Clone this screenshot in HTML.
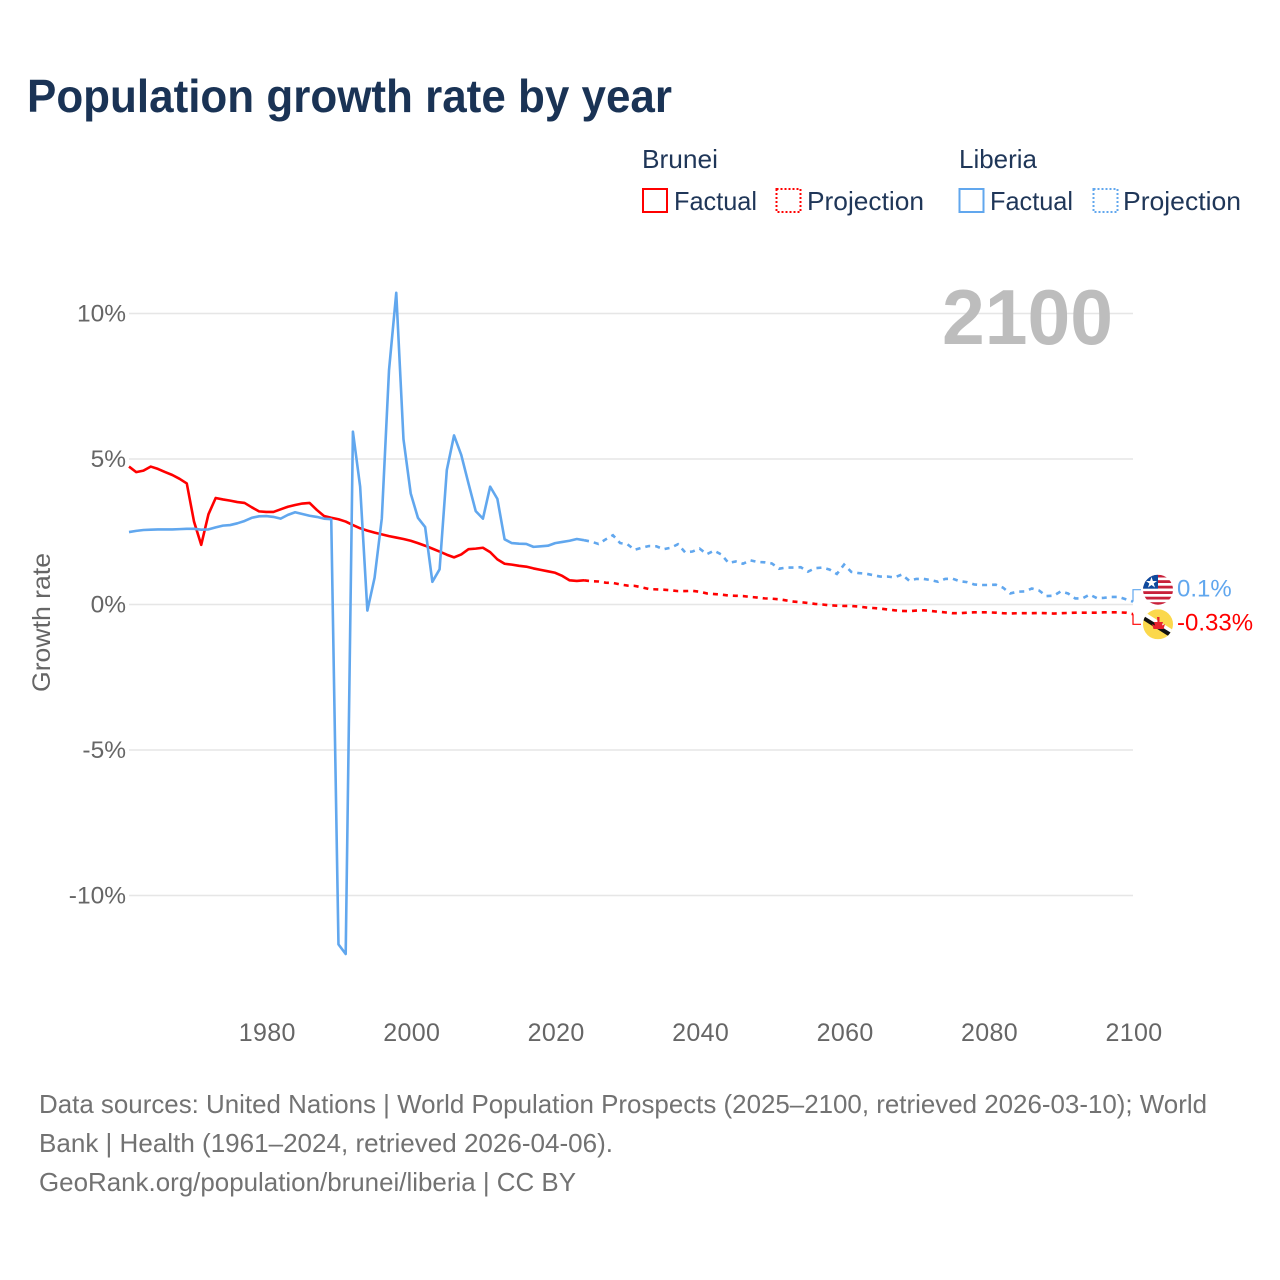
<!DOCTYPE html>
<html lang="en">
<head>
<meta charset="utf-8">
<title>Population growth rate by year</title>
<style>
html,body{margin:0;padding:0;background:#fff;}
svg{display:block;font-family:"Liberation Sans",sans-serif;}
</style>
</head>
<body>
<svg id="chart" xmlns="http://www.w3.org/2000/svg" width="1280" height="1280" viewBox="0 0 1280 1280">
  <defs>
    <clipPath id="flag-top"><circle cx="1158" cy="589.7" r="15"/></clipPath>
    <clipPath id="flag-bottom"><circle cx="1158" cy="624.3" r="15"/></clipPath>
  </defs>
  <rect x="0" y="0" width="1280" height="1280" fill="#fff"/>
  <text x="27" y="112" font-size="46" font-weight="700" fill="#1a3355" textLength="645" lengthAdjust="spacingAndGlyphs">Population growth rate by year</text>

  <g font-size="26" fill="#1f3658">
    <text x="642" y="168" textLength="76" lengthAdjust="spacingAndGlyphs">Brunei</text>
    <rect x="643" y="189" width="24" height="23" fill="none" stroke="#ff0000" stroke-width="2"/>
    <text x="674" y="210" textLength="83" lengthAdjust="spacingAndGlyphs">Factual</text>
    <rect x="776.500" y="189" width="24" height="23" fill="none" stroke="#ff0000" stroke-width="2" stroke-dasharray="2,2"/>
    <text x="807" y="210" textLength="117" lengthAdjust="spacingAndGlyphs">Projection</text>
    <text x="959" y="168" textLength="78" lengthAdjust="spacingAndGlyphs">Liberia</text>
    <rect x="959.500" y="189" width="24" height="23" fill="none" stroke="#61a7ee" stroke-width="2"/>
    <text x="990" y="210" textLength="83" lengthAdjust="spacingAndGlyphs">Factual</text>
    <rect x="1093.500" y="189" width="24" height="23" fill="none" stroke="#61a7ee" stroke-width="2" stroke-dasharray="2,2"/>
    <text x="1123" y="210" textLength="118" lengthAdjust="spacingAndGlyphs">Projection</text>
  </g>

  <g id="grid"></g>
  <g id="y-ticks"></g>
  <g id="x-ticks"></g>
  <text transform="translate(50,692) rotate(-90)" font-size="25" fill="#666" textLength="139" lengthAdjust="spacingAndGlyphs">Growth rate</text>
  <text x="942" y="344" font-size="78" font-weight="700" fill="#bdbdbd" textLength="171" lengthAdjust="spacingAndGlyphs">2100</text>

  <g id="series"></g>

  <g clip-path="url(#flag-top)">
    <rect x="1143" y="574.700" width="30" height="30" fill="#fff"/>
    <rect x="1143" y="574.700" width="30" height="2.800" fill="#c8213a"/>
    <rect x="1143" y="580.200" width="30" height="2.800" fill="#c8213a"/>
    <rect x="1143" y="585.700" width="30" height="2.800" fill="#c8213a"/>
    <rect x="1143" y="591.200" width="30" height="2.800" fill="#c8213a"/>
    <rect x="1143" y="596.700" width="30" height="2.800" fill="#c8213a"/>
    <rect x="1143" y="602.200" width="30" height="2.800" fill="#c8213a"/>
    <rect x="1143" y="574.700" width="15" height="14" fill="#0f4a9e"/>
    <polygon points="1151.500,577 1152.900,581 1157,581 1153.700,583.500 1155,587.500 1151.500,585 1148,587.500 1149.300,583.500 1146,581 1150.100,581" fill="#fff"/>
  </g>
  <g clip-path="url(#flag-bottom)">
    <rect x="1143" y="609.300" width="30" height="30" fill="#fbd84c"/>
    <polygon points="1143,611 1143,617 1173,636 1173,630" fill="#fff"/>
    <polygon points="1143,615.500 1143,620 1173,639 1173,634" fill="#111"/>
    <path d="M1157 617h2.500v5h3.500l-1 3.500 3 -1.500-1.500 5h-10l-1.500-5 3 1.500-1-3.500h3.500z" fill="#e8222c"/>
  </g>

  <g font-size="26" fill="#727272">
    <text x="39" y="1113" textLength="1168" lengthAdjust="spacingAndGlyphs">Data sources: United Nations | World Population Prospects (2025–2100, retrieved 2026-03-10); World</text>
    <text x="39" y="1152" textLength="574" lengthAdjust="spacingAndGlyphs">Bank | Health (1961–2024, retrieved 2026-04-06).</text>
    <text x="39" y="1191" textLength="537" lengthAdjust="spacingAndGlyphs">GeoRank.org/population/brunei/liberia | CC BY</text>
  </g>
</svg>
<script>
const xTickYears = [1980, 2000, 2020, 2040, 2060, 2080, 2100];
const yTickValues = [10, 5, 0, -5, -10];
const yTickLabels = ['10%', '5%', '0%', '-5%', '-10%'];
const factualStartYear = 1961;
const projectionStartYear = 2024;
const bruneiFactual = [4.74,4.55,4.60,4.74,4.66,4.55,4.45,4.32,4.16,2.85,2.05,3.10,3.66,3.61,3.57,3.52,3.49,3.34,3.20,3.18,3.18,3.27,3.36,3.42,3.47,3.49,3.25,3.04,2.98,2.93,2.85,2.73,2.62,2.54,2.47,2.41,2.35,2.30,2.25,2.19,2.11,2.02,1.92,1.82,1.71,1.62,1.72,1.90,1.92,1.95,1.80,1.55,1.40,1.37,1.33,1.30,1.24,1.19,1.14,1.09,0.98,0.83,0.81,0.83];
const bruneiProjection = [0.83,0.80,0.79,0.75,0.74,0.69,0.65,0.64,0.59,0.53,0.52,0.51,0.49,0.46,0.46,0.47,0.44,0.38,0.36,0.34,0.31,0.30,0.29,0.26,0.24,0.21,0.20,0.18,0.14,0.10,0.08,0.05,0.02,0.00,-0.03,-0.04,-0.05,-0.05,-0.07,-0.10,-0.12,-0.14,-0.17,-0.20,-0.22,-0.23,-0.21,-0.20,-0.22,-0.25,-0.27,-0.30,-0.30,-0.28,-0.27,-0.27,-0.27,-0.28,-0.30,-0.31,-0.30,-0.30,-0.30,-0.29,-0.30,-0.31,-0.30,-0.29,-0.28,-0.28,-0.28,-0.28,-0.27,-0.27,-0.27,-0.28,-0.33];
const liberiaFactual = [2.49,2.53,2.56,2.57,2.58,2.58,2.58,2.59,2.60,2.60,2.57,2.58,2.65,2.71,2.73,2.79,2.87,2.98,3.03,3.04,3.01,2.95,3.08,3.17,3.11,3.05,3.01,2.95,2.93,-11.68,-12.01,5.94,4.05,-0.21,0.92,2.96,8.06,10.71,5.68,3.82,2.98,2.66,0.78,1.21,4.62,5.81,5.14,4.16,3.21,2.95,4.05,3.63,2.24,2.11,2.09,2.08,1.98,2.00,2.02,2.11,2.15,2.19,2.25,2.21];
const liberiaProjection = [2.21,2.16,2.08,2.24,2.38,2.11,2.07,1.88,1.95,2.01,2.00,1.90,1.95,2.07,1.79,1.82,1.92,1.73,1.85,1.72,1.43,1.48,1.40,1.52,1.46,1.45,1.41,1.23,1.27,1.27,1.28,1.13,1.25,1.27,1.20,1.05,1.37,1.12,1.08,1.06,1.01,0.96,0.96,0.93,1.03,0.82,0.88,0.88,0.84,0.78,0.88,0.89,0.80,0.77,0.69,0.67,0.67,0.68,0.58,0.38,0.44,0.45,0.55,0.48,0.29,0.30,0.45,0.38,0.21,0.21,0.34,0.22,0.23,0.26,0.26,0.18,0.1];

const SVG_NS = 'http://www.w3.org/2000/svg';
const RED = '#ff0000';
const BLUE = '#61a7ee';
function xScale(year) { return 129 + (year - 1961) * (1133 - 129) / (2100 - 1961); }
function yScale(value) { return 604.5 - value * 29.1; }
function make(tag, attrs, parent) {
  const el = document.createElementNS(SVG_NS, tag);
  for (const k in attrs) el.setAttribute(k, attrs[k]);
  parent.appendChild(el);
  return el;
}
function pointsFrom(values, startYear) {
  return values.map(function (v, i) { return xScale(startYear + i).toFixed(2) + ',' + yScale(v).toFixed(2); }).join(' ');
}

const gridGroup = document.getElementById('grid');
const yTickGroup = document.getElementById('y-ticks');
yTickValues.forEach(function (v, i) {
  const line = make('line', { x1: 129, x2: 1133, y1: yScale(v), y2: yScale(v), stroke: '#e6e6e6', 'stroke-width': 1.5 }, gridGroup);
  
  
  const label = make('text', { x: 126, y: yScale(v) + 8, 'text-anchor': 'end', 'font-size': 24.5, fill: '#666' }, yTickGroup);
  
  
  label.textContent = yTickLabels[i];
});

const xTickGroup = document.getElementById('x-ticks');
xTickYears.forEach(function (year) {
  const label = make('text', { x: xScale(year) + 1, y: 1041, 'text-anchor': 'middle', 'font-size': 25, 'letter-spacing': 0.35, fill: '#666' }, xTickGroup);
  
  
  label.textContent = String(year);
});

const seriesGroup = document.getElementById('series');
function drawCountry(factual, projection, color, labelOffset, textOffset, key) {
  const solid = make('polyline', { points: pointsFrom(factual, factualStartYear), fill: 'none', stroke: color, 'stroke-width': 2.6, 'stroke-linejoin': 'round' }, seriesGroup);
  
  
  const dashed = make('polyline', { points: pointsFrom(projection, projectionStartYear), fill: 'none', stroke: color, 'stroke-width': 2.6, 'stroke-dasharray': '5,5' }, seriesGroup);
  
  
  const last = projection[projection.length - 1];
  const endX = xScale(2100);
  const endY = yScale(last);
  const labelY = endY + labelOffset;
  const connector = make('polyline', { points: endX + ',' + endY + ' ' + endX + ',' + labelY + ' ' + (endX + 8) + ',' + labelY, fill: 'none', stroke: color, 'stroke-width': 1.2 }, seriesGroup);
  
  
  const value = make('text', { x: 1177, y: labelY + textOffset, 'font-size': 24, fill: color }, seriesGroup);
  
  
  value.textContent = last + '%';
}
drawCountry(bruneiFactual, bruneiProjection, RED, 10.2, 6, 'brunei');
drawCountry(liberiaFactual, liberiaProjection, BLUE, -11.9, 7, 'liberia');
</script>
</body>
</html>
